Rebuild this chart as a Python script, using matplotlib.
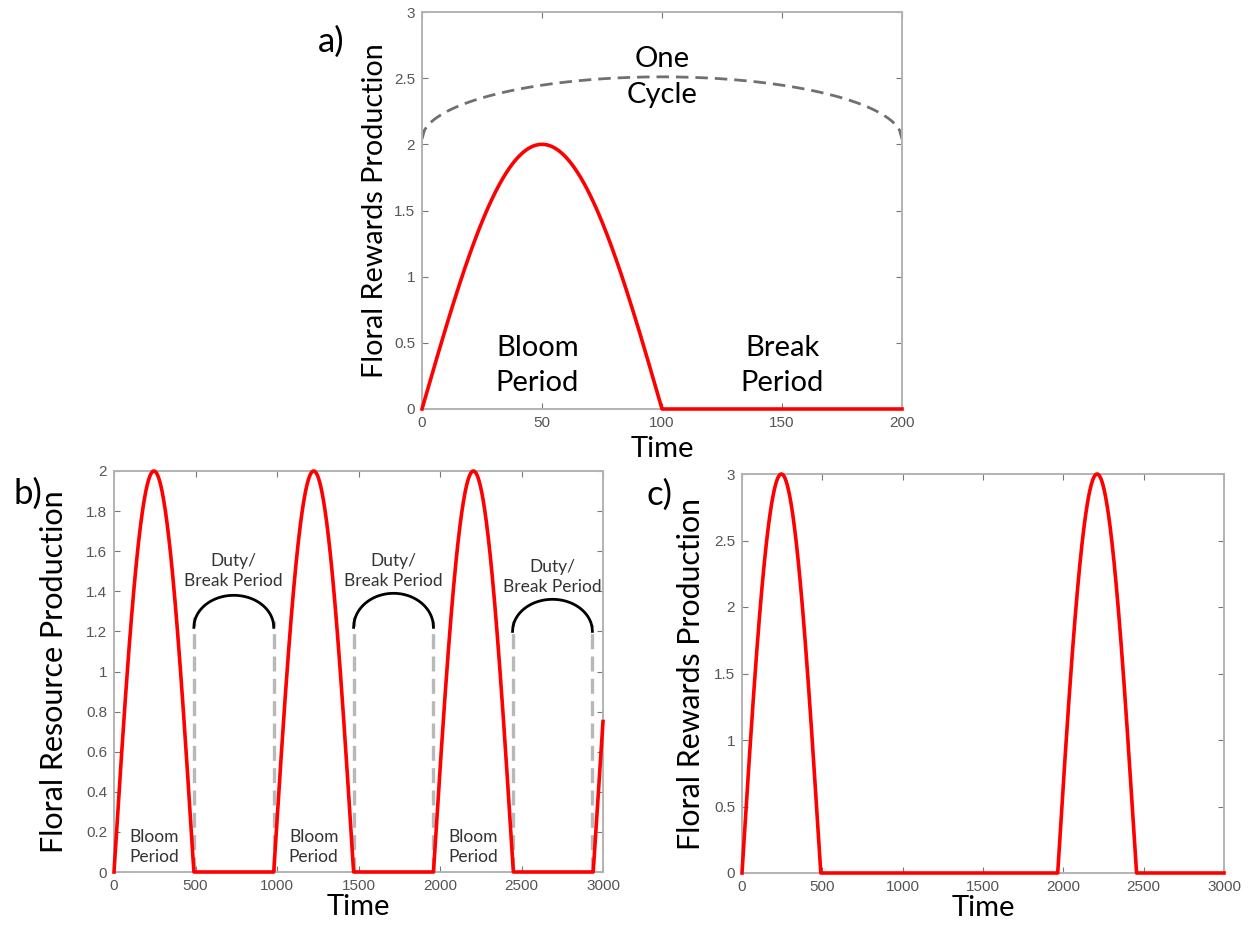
import numpy as np
import matplotlib
matplotlib.use("Agg")
import matplotlib.pyplot as plt

# ---- data ----------------------------------------------------------------
# Panel a: one bloom/break cycle
a_bloom_start = [0]
a_bloom_len = 100
a_peak = 2.0
a_xmax = 200
a_cycle_arc = {"x0": 0, "x1": 200, "base": 2.04, "height": 0.47}

# Panel b: repeated bloom pulses, equal bloom and break
b_bloom_start = [0, 980, 1960, 2940]
b_bloom_len = 490
b_peak = 2.0
b_xmax = 3000
b_break_edges = [(490, 980), (1470, 1960), (2445, 2935)]
b_arc_peak = [1.38, 1.39, 1.36]
b_arc_base = [1.22, 1.22, 1.20]
b_duty_label_y = [1.50, 1.50, 1.47]
b_bloom_label_x = [245, 1225, 2205]

# Panel c: long break between blooms
c_bloom_start = [0, 1965]
c_bloom_len = 490
c_peak = 3.0
c_xmax = 3000

a_xticks = [0, 50, 100, 150, 200]
a_yticks = [0, 0.5, 1, 1.5, 2, 2.5, 3]
b_xticks = [0, 500, 1000, 1500, 2000, 2500, 3000]
b_yticks = [0, 0.2, 0.4, 0.6, 0.8, 1, 1.2, 1.4, 1.6, 1.8, 2]
c_xticks = b_xticks
c_yticks = a_yticks


def pulse_train(starts, length, peak, xmax, n=6000):
    t = np.linspace(0, xmax, n)
    y = np.zeros_like(t)
    for s in starts:
        m = (t >= s) & (t <= s + length)
        y[m] = peak * np.sin(np.pi * (t[m] - s) / length)
    return t, y


def arc(x0, x1, base, height, n=200):
    x = np.linspace(x0, x1, n)
    c = 0.5 * (x0 + x1)
    r = 0.5 * (x1 - x0)
    return x, base + height * np.sqrt(np.clip(1 - ((x - c) / r) ** 2, 0, 1))


# ---- styling -------------------------------------------------------------
W, H = 1249, 932
fig = plt.figure(figsize=(W / 100, H / 100), dpi=100)
fig.patch.set_facecolor("white")

TXT = ["Lato", "DejaVu Sans"]
TICKF = ["Liberation Sans", "DejaVu Sans"]
SPINE = "#b3b3b3"
TICKC = "#555555"
RED = "#ff0000"


def style(ax, xticks, yticks, xlim, ylim):
    ax.set_xlim(*xlim)
    ax.set_ylim(*ylim)
    ax.set_xticks(xticks)
    ax.set_yticks(yticks)
    ax.set_xticklabels([f"{v:g}" for v in xticks], family=TICKF, fontsize=11, color=TICKC)
    ax.set_yticklabels([f"{v:g}" for v in yticks], family=TICKF, fontsize=11, color=TICKC)
    ax.tick_params(direction="in", length=4, width=0.8, color="#777777",
                   top=True, right=True, pad=5)
    for s in ax.spines.values():
        s.set_color(SPINE)
        s.set_linewidth(1.4)


def box(l, t, r, b):
    return [l / W, 1 - b / H, (r - l) / W, (b - t) / H]


# ---- panel a -------------------------------------------------------------
axa = fig.add_axes(box(422, 12, 902, 409))
ta, ya = pulse_train(a_bloom_start, a_bloom_len, a_peak, a_xmax, 2000)
axa.plot(ta, ya, color=RED, lw=2.6, clip_on=False, zorder=3)
xc, yc = arc(**a_cycle_arc)
axa.plot(xc, yc, color="#707070", lw=2.0, dashes=(4.5, 2.5))
style(axa, a_xticks, a_yticks, (0, a_xmax), (0, 3))
axa.text(100, 2.51, "One\nCycle", ha="center", va="center", family=TXT,
         fontsize=21, linespacing=1.45)
axa.text(48, 0.33, "Bloom\nPeriod", ha="center", va="center", family=TXT,
         fontsize=21, linespacing=1.4)
axa.text(150, 0.33, "Break\nPeriod", ha="center", va="center", family=TXT,
         fontsize=21, linespacing=1.4)
axa.set_ylabel("Floral Rewards Production", family=TXT, fontsize=20.7)
axa.set_xlabel("Time", family=TXT, fontsize=21)
axa.yaxis.set_label_coords(-0.070, 0.5)
axa.xaxis.set_label_coords(0.5, -0.068)
fig.text(331 / W, 1 - 42 / H, "a)", ha="center", va="center", family=TXT, fontsize=25)

# ---- panel b -------------------------------------------------------------
axb = fig.add_axes(box(114, 471, 603, 872))
for (x0, x1), base, top in zip(b_break_edges, b_arc_base, b_arc_peak):
    for xv, ytop in ((x0, base + 0.05), (x1, base + 0.03)):
        axb.plot([xv, xv], [0, ytop], color="#b8b8b8", lw=2.4, dashes=(4.5, 2.2), zorder=2)
for (x0, x1), base, top, ly in zip(b_break_edges, b_arc_base, b_arc_peak, b_duty_label_y):
    xs, ys = arc(x0, x1, base, top - base)
    axb.plot(xs, ys, color="black", lw=2.0, zorder=3)
    axb.text(0.5 * (x0 + x1), ly, "Duty/\nBreak Period", ha="center", va="center",
             family=TXT, fontsize=12.5, color="#333333", linespacing=1.3)
tb, yb = pulse_train(b_bloom_start, b_bloom_len, b_peak, b_xmax)
axb.plot(tb, yb, color=RED, lw=2.6, clip_on=False, zorder=4)
for bx in b_bloom_label_x:
    axb.text(bx, 0.125, "Bloom\nPeriod", ha="center", va="center", family=TXT,
             fontsize=12.5, color="#333333", linespacing=1.35)
style(axb, b_xticks, b_yticks, (0, b_xmax), (0, 2))
axb.set_ylabel("Floral Resource Production", family=TXT, fontsize=22)
axb.set_xlabel("Time", family=TXT, fontsize=21)
axb.yaxis.set_label_coords(-0.094, 0.5)
axb.xaxis.set_label_coords(0.5, -0.055)
fig.text(28 / W, 1 - 494 / H, "b)", ha="center", va="center", family=TXT, fontsize=25)

# ---- panel c -------------------------------------------------------------
axc = fig.add_axes(box(742, 474, 1224, 873))
tc, yc2 = pulse_train(c_bloom_start, c_bloom_len, c_peak, c_xmax)
axc.plot(tc, yc2, color=RED, lw=2.6, clip_on=False, zorder=3)
style(axc, c_xticks, c_yticks, (0, c_xmax), (0, 3))
axc.set_ylabel("Floral Rewards Production", family=TXT, fontsize=21.8)
axc.set_xlabel("Time", family=TXT, fontsize=21)
axc.yaxis.set_label_coords(-0.077, 0.5)
axc.xaxis.set_label_coords(0.5, -0.055)
fig.text(660 / W, 1 - 495 / H, "c)", ha="center", va="center", family=TXT, fontsize=25)

fig.savefig("out.png", dpi=100, facecolor="white")
